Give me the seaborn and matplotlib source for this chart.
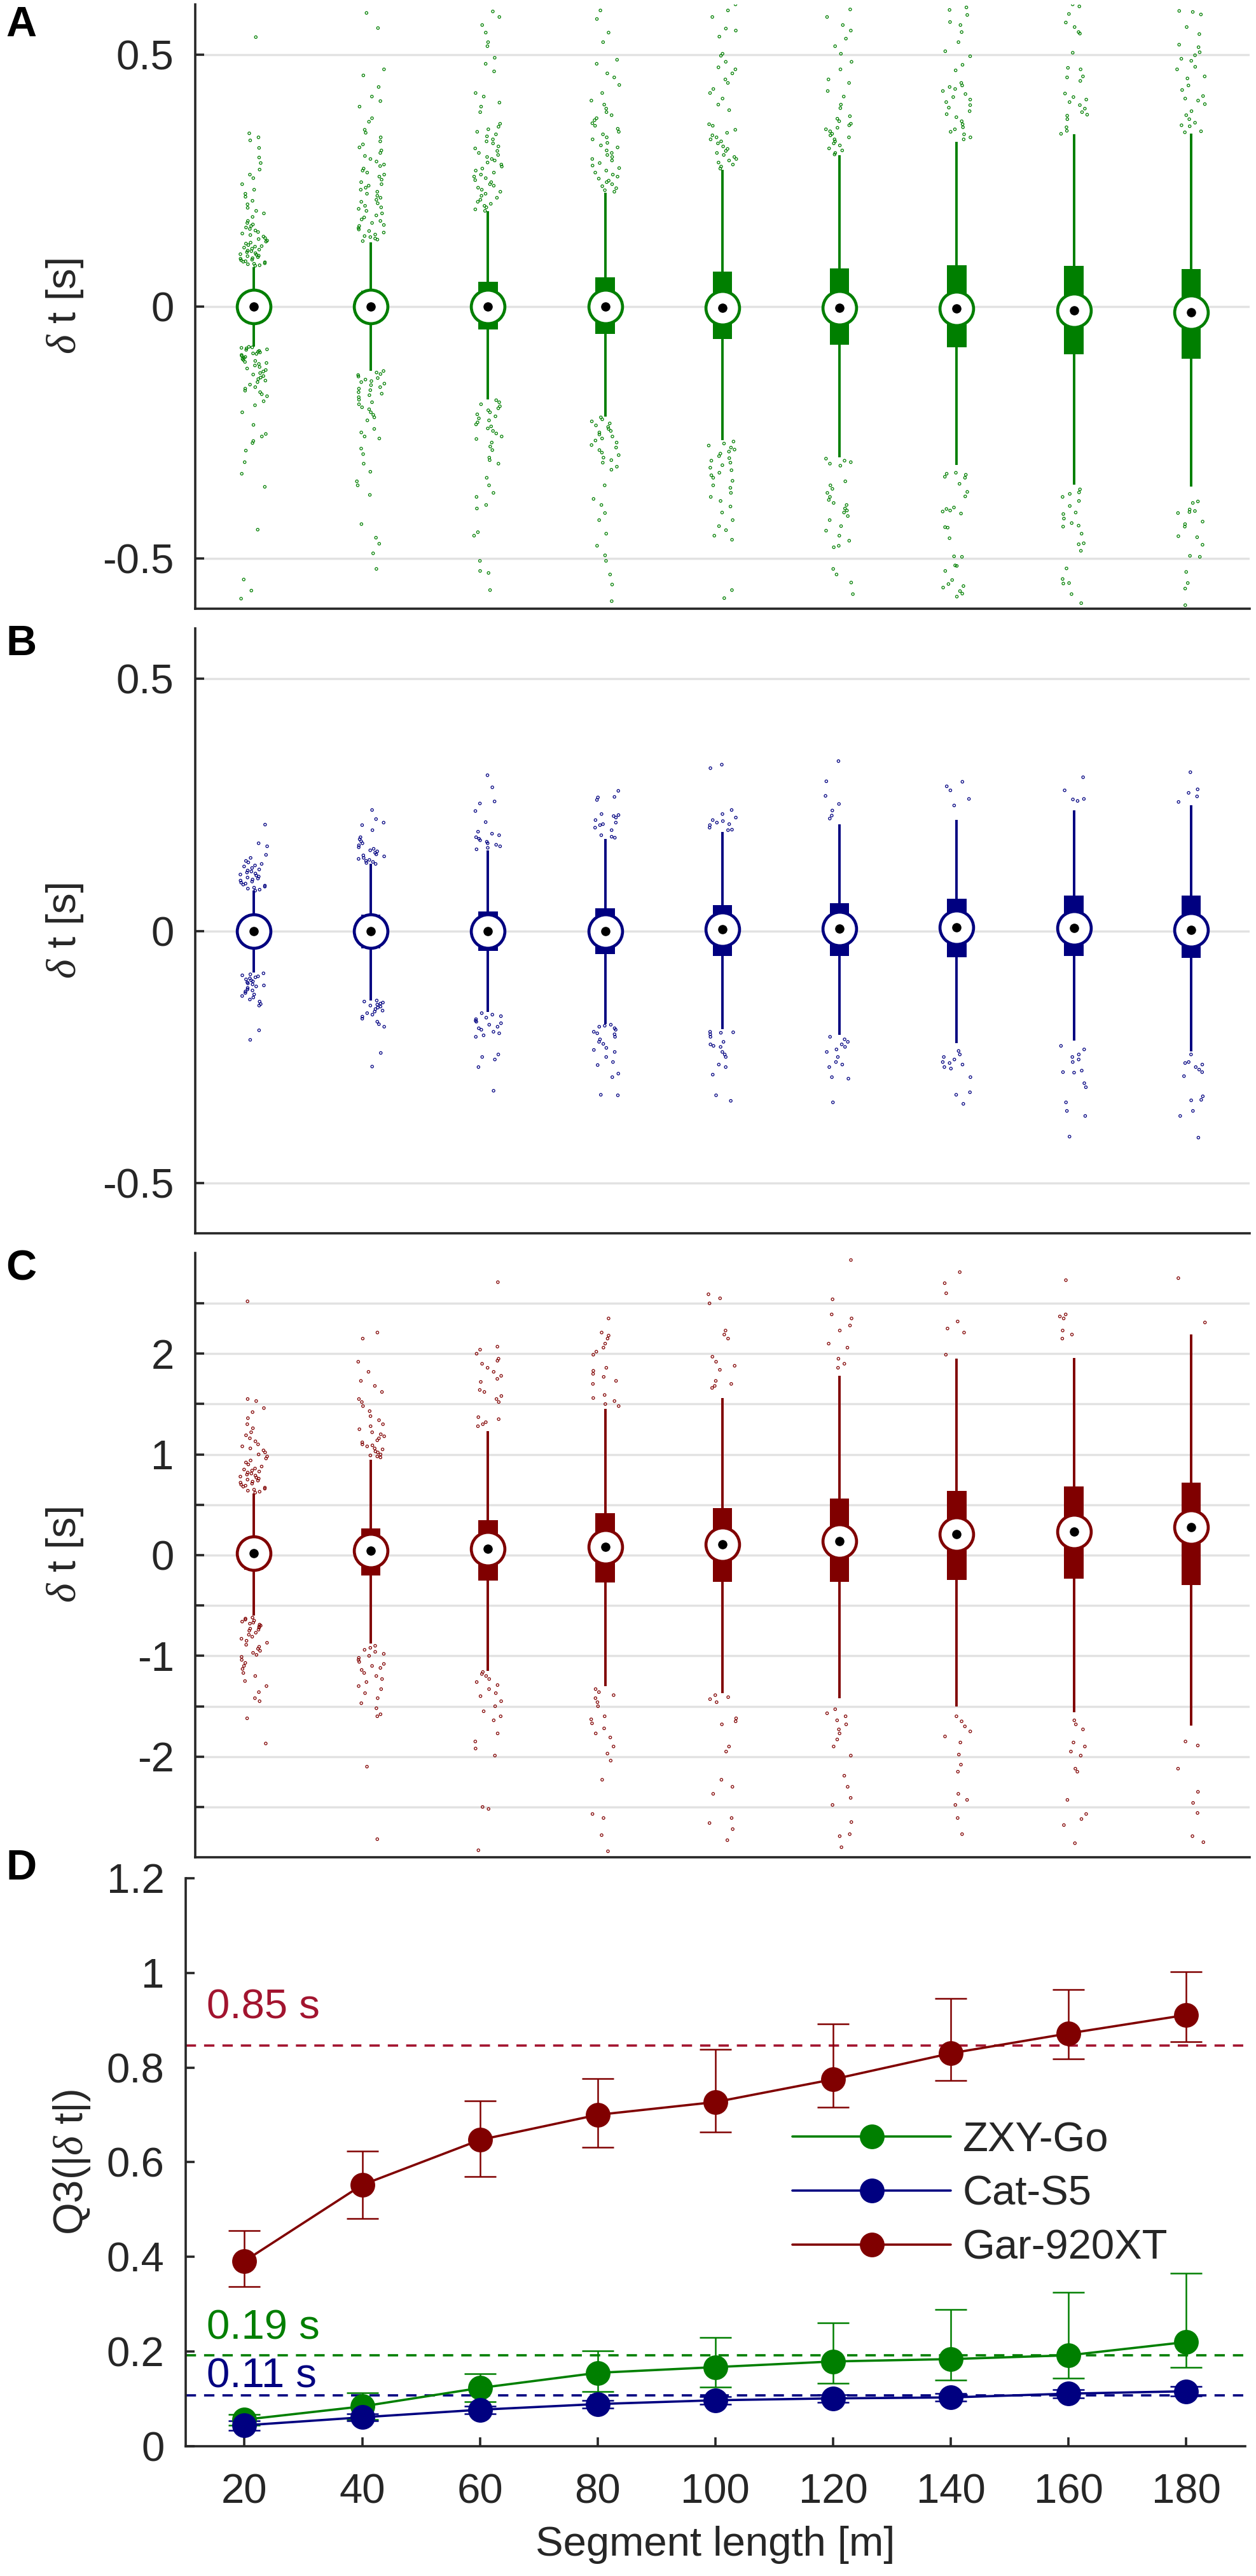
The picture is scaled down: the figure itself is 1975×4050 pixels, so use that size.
import numpy as np
import pandas as pd
import matplotlib
matplotlib.use("Agg")
import matplotlib.pyplot as plt
from matplotlib.lines import Line2D
import seaborn as sns

sns.set_style("ticks")
plt.rcParams["font.family"] = ["Liberation Sans", "DejaVu Sans"]
plt.rcParams["mathtext.fontset"] = "custom"
plt.rcParams["mathtext.it"] = "Liberation Serif:italic"
plt.rcParams["mathtext.rm"] = "Liberation Sans"
plt.rcParams["axes.unicode_minus"] = False

seg = [20, 40, 60, 80, 100, 120, 140, 160, 180]

# ---- panel A: ZXY-Go, delta t box stats [s]
a_med = [0.0, 0.0, 0.0, 0.0, -0.002, -0.002, -0.004, -0.008, -0.012]
a_q1 = [-0.02, -0.032, -0.045, -0.054, -0.064, -0.076, -0.081, -0.095, -0.103]
a_q3 = [0.02, 0.032, 0.049, 0.058, 0.069, 0.076, 0.082, 0.081, 0.075]
a_lo = [-0.08, -0.127, -0.185, -0.218, -0.265, -0.30, -0.315, -0.354, -0.357]
a_hi = [0.078, 0.127, 0.189, 0.226, 0.272, 0.30, 0.327, 0.342, 0.344]
a_out_hi = [
    [0.081, 0.082, 0.084, 0.085, 0.086, 0.088, 0.089, 0.09, 0.092, 0.093, 0.095, 0.096, 0.098, 0.1, 0.101,
     0.103, 0.104, 0.106, 0.108, 0.11, 0.111, 0.113, 0.115, 0.117, 0.119, 0.12, 0.122, 0.125, 0.127, 0.129,
     0.131, 0.134, 0.136, 0.139, 0.142, 0.145, 0.148, 0.151, 0.154, 0.157, 0.16, 0.163, 0.166, 0.17, 0.178,
     0.185, 0.19, 0.196, 0.203, 0.21, 0.218, 0.224, 0.232, 0.243, 0.255, 0.262, 0.272, 0.285, 0.296, 0.315,
     0.33, 0.336, 0.344, 0.535],
    [0.13, 0.133, 0.135, 0.138, 0.14, 0.143, 0.147, 0.15, 0.153, 0.156, 0.16, 0.162, 0.166, 0.17, 0.173,
     0.177, 0.181, 0.185, 0.19, 0.194, 0.197, 0.2, 0.205, 0.208, 0.212, 0.216, 0.22, 0.224, 0.228, 0.232,
     0.236, 0.24, 0.243, 0.247, 0.252, 0.258, 0.262, 0.266, 0.27, 0.274, 0.279, 0.282, 0.288, 0.293, 0.299,
     0.305, 0.31, 0.316, 0.322, 0.328, 0.336, 0.345, 0.351, 0.367, 0.374, 0.397, 0.408, 0.417, 0.436, 0.459,
     0.471, 0.553, 0.583],
    [0.19, 0.193, 0.197, 0.2, 0.204, 0.208, 0.212, 0.216, 0.22, 0.224, 0.228, 0.232, 0.236, 0.24, 0.243,
     0.247, 0.251, 0.255, 0.258, 0.262, 0.266, 0.27, 0.274, 0.278, 0.282, 0.286, 0.29, 0.293, 0.297, 0.301,
     0.305, 0.309, 0.314, 0.318, 0.324, 0.328, 0.332, 0.338, 0.342, 0.347, 0.352, 0.357, 0.363, 0.386, 0.397,
     0.405, 0.417, 0.424, 0.467, 0.482, 0.494, 0.517, 0.525, 0.544, 0.559, 0.575, 0.586],
    [0.228, 0.231, 0.235, 0.239, 0.243, 0.247, 0.25, 0.254, 0.258, 0.262, 0.266, 0.27, 0.275, 0.28, 0.285,
     0.29, 0.293, 0.297, 0.301, 0.305, 0.31, 0.316, 0.32, 0.325, 0.332, 0.336, 0.342, 0.347, 0.353, 0.359,
     0.364, 0.37, 0.374, 0.38, 0.386, 0.393, 0.401, 0.409, 0.424, 0.44, 0.455, 0.463, 0.482, 0.49, 0.525,
     0.544, 0.571, 0.588],
    [0.274, 0.278, 0.282, 0.286, 0.29, 0.293, 0.297, 0.301, 0.305, 0.309, 0.313, 0.318, 0.324, 0.328, 0.332,
     0.336, 0.34, 0.345, 0.351, 0.359, 0.362, 0.39, 0.401, 0.413, 0.424, 0.432, 0.444, 0.451, 0.463, 0.471,
     0.475, 0.486, 0.498, 0.502, 0.536, 0.548, 0.552, 0.575, 0.588, 0.6],
    [0.302, 0.305, 0.31, 0.314, 0.32, 0.324, 0.328, 0.332, 0.336, 0.34, 0.343, 0.348, 0.352, 0.355, 0.36,
     0.363, 0.368, 0.373, 0.378, 0.394, 0.401, 0.417, 0.428, 0.444, 0.451, 0.471, 0.486, 0.502, 0.517, 0.532,
     0.548, 0.559, 0.575, 0.59],
    [0.332, 0.336, 0.342, 0.347, 0.352, 0.356, 0.362, 0.368, 0.376, 0.382, 0.388, 0.395, 0.4, 0.406, 0.411,
     0.416, 0.422, 0.428, 0.432, 0.436, 0.439, 0.444, 0.469, 0.48, 0.497, 0.507, 0.525, 0.545, 0.559, 0.565,
     0.579, 0.589, 0.594],
    [0.343, 0.349, 0.356, 0.372, 0.379, 0.381, 0.386, 0.393, 0.4, 0.406, 0.411, 0.416, 0.423, 0.448, 0.455,
     0.457, 0.471, 0.474, 0.504, 0.542, 0.545, 0.555, 0.564, 0.581, 0.596, 0.6],
    [0.346, 0.348, 0.358, 0.36, 0.365, 0.372, 0.38, 0.388, 0.402, 0.409, 0.413, 0.418, 0.43, 0.439, 0.453,
     0.457, 0.471, 0.476, 0.488, 0.492, 0.499, 0.505, 0.515, 0.52, 0.541, 0.555, 0.58, 0.585, 0.587],
]
a_out_lo = [
    [-0.08, -0.081, -0.082, -0.083, -0.085, -0.086, -0.088, -0.09, -0.091, -0.093, -0.094, -0.096, -0.098,
     -0.1, -0.102, -0.104, -0.106, -0.108, -0.11, -0.112, -0.114, -0.117, -0.12, -0.123, -0.126, -0.129,
     -0.132, -0.135, -0.138, -0.141, -0.144, -0.147, -0.15, -0.155, -0.16, -0.163, -0.167, -0.17, -0.174,
     -0.178, -0.188, -0.196, -0.21, -0.235, -0.253, -0.258, -0.267, -0.271, -0.286, -0.309, -0.332, -0.358,
     -0.443, -0.542, -0.564, -0.58],
    [-0.128, -0.131, -0.134, -0.136, -0.139, -0.142, -0.145, -0.148, -0.15, -0.153, -0.156, -0.16, -0.163,
     -0.166, -0.17, -0.173, -0.176, -0.18, -0.185, -0.19, -0.194, -0.2, -0.204, -0.21, -0.215, -0.22, -0.226,
     -0.243, -0.25, -0.258, -0.262, -0.282, -0.293, -0.312, -0.328, -0.347, -0.355, -0.374, -0.432, -0.459,
     -0.471, -0.49, -0.521],
    [-0.186, -0.19, -0.194, -0.198, -0.202, -0.206, -0.21, -0.214, -0.218, -0.222, -0.226, -0.23, -0.234,
     -0.238, -0.242, -0.247, -0.252, -0.258, -0.263, -0.27, -0.278, -0.285, -0.3, -0.305, -0.312, -0.34,
     -0.355, -0.37, -0.378, -0.394, -0.401, -0.448, -0.455, -0.505, -0.525, -0.529, -0.563],
    [-0.22, -0.224, -0.228, -0.232, -0.236, -0.239, -0.243, -0.247, -0.25, -0.254, -0.258, -0.262, -0.266,
     -0.27, -0.275, -0.28, -0.285, -0.29, -0.295, -0.3, -0.305, -0.31, -0.318, -0.324, -0.355, -0.382,
     -0.394, -0.41, -0.424, -0.451, -0.475, -0.494, -0.505, -0.532, -0.552, -0.585],
    [-0.268, -0.272, -0.276, -0.28, -0.284, -0.288, -0.292, -0.297, -0.301, -0.306, -0.31, -0.315, -0.32,
     -0.325, -0.33, -0.335, -0.34, -0.346, -0.355, -0.36, -0.37, -0.378, -0.386, -0.397, -0.409, -0.424,
     -0.436, -0.444, -0.455, -0.463, -0.563, -0.579],
    [-0.302, -0.306, -0.309, -0.312, -0.316, -0.347, -0.355, -0.362, -0.37, -0.378, -0.384, -0.39, -0.394,
     -0.401, -0.405, -0.409, -0.416, -0.424, -0.436, -0.445, -0.455, -0.465, -0.475, -0.478, -0.521, -0.532,
     -0.548, -0.571],
    [-0.33, -0.332, -0.334, -0.338, -0.34, -0.352, -0.368, -0.377, -0.399, -0.402, -0.405, -0.407, -0.411,
     -0.438, -0.439, -0.46, -0.496, -0.497, -0.514, -0.515, -0.525, -0.543, -0.551, -0.555, -0.558, -0.565,
     -0.57, -0.576],
    [-0.363, -0.369, -0.372, -0.378, -0.386, -0.396, -0.409, -0.412, -0.421, -0.43, -0.435, -0.437, -0.451,
     -0.47, -0.472, -0.485, -0.52, -0.541, -0.549, -0.55, -0.571, -0.589],
    [-0.387, -0.39, -0.403, -0.406, -0.408, -0.41, -0.427, -0.432, -0.437, -0.456, -0.458, -0.473, -0.495,
     -0.497, -0.527, -0.549, -0.56, -0.593],
]

# ---- panel B: Cat-S5
b_med = [0.0, 0.0, 0.0, 0.0, 0.004, 0.005, 0.007, 0.006, 0.002]
b_q1 = [-0.02, -0.034, -0.04, -0.046, -0.05, -0.05, -0.052, -0.049, -0.054]
b_q3 = [0.02, 0.033, 0.039, 0.045, 0.051, 0.055, 0.064, 0.07, 0.07]
b_lo = [-0.083, -0.138, -0.161, -0.185, -0.195, -0.206, -0.222, -0.218, -0.239]
b_hi = [0.08, 0.133, 0.16, 0.182, 0.197, 0.212, 0.221, 0.239, 0.25]
b_out_hi = [
    [0.08, 0.082, 0.084, 0.086, 0.088, 0.09, 0.092, 0.094, 0.096, 0.098, 0.1, 0.102, 0.104, 0.106, 0.108,
     0.11, 0.112, 0.114, 0.116, 0.118, 0.12, 0.122, 0.125, 0.128, 0.13, 0.133, 0.136, 0.139, 0.145, 0.151,
     0.168, 0.174, 0.211],
    [0.133, 0.135, 0.137, 0.139, 0.141, 0.143, 0.145, 0.148, 0.15, 0.152, 0.155, 0.158, 0.16, 0.163, 0.166,
     0.17, 0.174, 0.178, 0.182, 0.186, 0.2, 0.21, 0.215, 0.222, 0.24],
    [0.162, 0.165, 0.168, 0.171, 0.174, 0.177, 0.18, 0.183, 0.186, 0.19, 0.193, 0.197, 0.216, 0.238, 0.253,
     0.257, 0.285, 0.309],
    [0.185, 0.187, 0.19, 0.2, 0.205, 0.21, 0.212, 0.215, 0.22, 0.225, 0.228, 0.23, 0.232, 0.26, 0.265,
     0.266, 0.278],
    [0.2, 0.201, 0.205, 0.21, 0.212, 0.215, 0.218, 0.22, 0.225, 0.232, 0.24, 0.323, 0.33],
    [0.223, 0.229, 0.239, 0.252, 0.268, 0.297, 0.337],
    [0.249, 0.262, 0.279, 0.287, 0.296],
    [0.258, 0.261, 0.262, 0.279, 0.305],
    [0.256, 0.267, 0.274, 0.281, 0.315],
]
b_out_lo = [
    [-0.084, -0.086, -0.088, -0.09, -0.092, -0.094, -0.096, -0.098, -0.1, -0.102, -0.104, -0.106, -0.108,
     -0.11, -0.113, -0.116, -0.118, -0.12, -0.123, -0.126, -0.129, -0.132, -0.136, -0.14, -0.145, -0.148,
     -0.197, -0.216],
    [-0.138, -0.14, -0.142, -0.144, -0.146, -0.148, -0.15, -0.152, -0.155, -0.158, -0.16, -0.163, -0.166,
     -0.17, -0.174, -0.18, -0.185, -0.19, -0.242, -0.269],
    [-0.163, -0.166, -0.169, -0.172, -0.175, -0.178, -0.18, -0.183, -0.186, -0.19, -0.193, -0.196, -0.2,
     -0.203, -0.207, -0.21, -0.245, -0.25, -0.255, -0.27, -0.317],
    [-0.186, -0.188, -0.19, -0.193, -0.196, -0.2, -0.203, -0.205, -0.21, -0.215, -0.22, -0.224, -0.232,
     -0.236, -0.24, -0.25, -0.26, -0.266, -0.283, -0.29, -0.325, -0.326],
    [-0.2, -0.201, -0.202, -0.205, -0.21, -0.22, -0.225, -0.228, -0.23, -0.24, -0.245, -0.25, -0.265, -0.27,
     -0.285, -0.326, -0.337],
    [-0.21, -0.215, -0.22, -0.225, -0.23, -0.235, -0.24, -0.25, -0.26, -0.265, -0.27, -0.29, -0.293, -0.34],
    [-0.238, -0.245, -0.25, -0.255, -0.26, -0.262, -0.265, -0.27, -0.273, -0.29, -0.32, -0.325, -0.343],
    [-0.228, -0.235, -0.245, -0.25, -0.255, -0.26, -0.277, -0.28, -0.281, -0.302, -0.31, -0.34, -0.357,
     -0.367, -0.408],
    [-0.245, -0.26, -0.262, -0.265, -0.27, -0.275, -0.28, -0.288, -0.328, -0.335, -0.336, -0.357, -0.367,
     -0.41],
]

# ---- panel C: Gar-920XT
c_med = [0.022, 0.044, 0.066, 0.084, 0.11, 0.14, 0.21, 0.235, 0.28]
c_q1 = [-0.146, -0.2, -0.25, -0.27, -0.265, -0.265, -0.245, -0.235, -0.3]
c_q3 = [0.16, 0.265, 0.35, 0.416, 0.47, 0.56, 0.64, 0.68, 0.72]
c_lo = [-0.6, -0.88, -1.15, -1.3, -1.37, -1.42, -1.5, -1.56, -1.69]
c_hi = [0.61, 0.95, 1.23, 1.45, 1.56, 1.78, 1.95, 1.96, 2.19]
c_out_hi = [
    [0.62, 0.63, 0.64, 0.65, 0.66, 0.67, 0.68, 0.69, 0.7, 0.71, 0.72, 0.73, 0.74, 0.75, 0.76, 0.77, 0.78,
     0.79, 0.8, 0.81, 0.82, 0.83, 0.84, 0.85, 0.86, 0.88, 0.9, 0.92, 0.94, 0.96, 0.98, 1.0, 1.02, 1.04, 1.06,
     1.08, 1.1, 1.13, 1.16, 1.19, 1.22, 1.26, 1.3, 1.36, 1.42, 1.46, 1.53, 1.55, 2.52],
    [0.97, 0.98, 0.99, 1.0, 1.02, 1.03, 1.05, 1.06, 1.08, 1.09, 1.1, 1.12, 1.14, 1.16, 1.18, 1.2, 1.22,
     1.25, 1.28, 1.3, 1.34, 1.38, 1.43, 1.48, 1.52, 1.55, 1.62, 1.68, 1.73, 1.82, 1.92, 2.15, 2.21],
    [1.28, 1.3, 1.32, 1.35, 1.37, 1.52, 1.55, 1.58, 1.62, 1.64, 1.72, 1.75, 1.78, 1.82, 1.86, 1.9, 1.93,
     1.95, 2.0, 2.04, 2.07, 2.71],
    [1.48, 1.5, 1.53, 1.56, 1.59, 1.7, 1.73, 1.77, 1.8, 1.83, 1.86, 1.99, 2.02, 2.06, 2.1, 2.15, 2.18,
     2.21, 2.35],
    [1.66, 1.68, 1.7, 1.73, 1.84, 1.88, 1.92, 1.97, 2.15, 2.19, 2.23, 2.5, 2.55, 2.59],
    [1.86, 1.9, 1.95, 2.06, 2.1, 2.23, 2.28, 2.35, 2.39, 2.54, 2.93],
    [1.99, 2.21, 2.25, 2.32, 2.6, 2.7, 2.81],
    [2.15, 2.19, 2.23, 2.35, 2.37, 2.39, 2.73],
    [2.31, 2.75],
]
c_out_lo = [
    [-0.62, -0.63, -0.64, -0.65, -0.66, -0.67, -0.68, -0.69, -0.7, -0.71, -0.72, -0.73, -0.74, -0.75,
     -0.77, -0.79, -0.81, -0.83, -0.85, -0.87, -0.89, -0.91, -0.93, -0.95, -0.97, -0.99, -1.01, -1.04,
     -1.07, -1.1, -1.13, -1.17, -1.2, -1.25, -1.3, -1.36, -1.42, -1.45, -1.62, -1.87],
    [-0.9, -0.92, -0.94, -0.96, -0.98, -1.0, -1.02, -1.04, -1.06, -1.08, -1.1, -1.12, -1.14, -1.17, -1.2,
     -1.23, -1.26, -1.3, -1.33, -1.37, -1.42, -1.47, -1.52, -1.58, -1.6, -2.1, -2.82],
    [-1.16, -1.18, -1.2, -1.23, -1.26, -1.29, -1.33, -1.37, -1.4, -1.45, -1.5, -1.55, -1.6, -1.64, -1.77,
     -1.85, -1.92, -1.99, -2.5, -2.52, -2.93],
    [-1.33, -1.36, -1.39, -1.42, -1.46, -1.5, -1.6, -1.63, -1.67, -1.72, -1.77, -1.81, -1.9, -1.97, -2.04,
     -2.23, -2.57, -2.61, -2.78, -2.94],
    [-1.39, -1.41, -1.43, -1.46, -1.62, -1.65, -1.68, -1.9, -1.95, -2.23, -2.3, -2.37, -2.61, -2.66, -2.72,
     -2.83],
    [-1.53, -1.57, -1.6, -1.64, -1.68, -1.73, -1.77, -1.83, -1.9, -1.99, -2.19, -2.3, -2.41, -2.48, -2.65,
     -2.77, -2.79, -2.9],
    [-1.6, -1.65, -1.7, -1.75, -1.8, -1.86, -1.98, -2.08, -2.15, -2.37, -2.43, -2.48, -2.61, -2.77],
    [-1.64, -1.68, -1.73, -1.86, -1.9, -1.95, -1.99, -2.12, -2.15, -2.43, -2.57, -2.62, -2.68, -2.86],
    [-1.85, -1.89, -2.12, -2.35, -2.46, -2.56, -2.79, -2.85],
]

# ---- panel D: Q3(|dt|) with error bars
devices = ["ZXY-Go", "Cat-S5", "Gar-920XT"]
zxy_q3 = [0.056, 0.084, 0.123, 0.155, 0.167, 0.179, 0.184, 0.192, 0.22]
zxy_lo = [0.044, 0.056, 0.094, 0.116, 0.125, 0.133, 0.14, 0.143, 0.166]
zxy_hi = [0.067, 0.113, 0.153, 0.202, 0.229, 0.26, 0.289, 0.325, 0.366]
cat_q3 = [0.044, 0.061, 0.077, 0.089, 0.097, 0.101, 0.103, 0.111, 0.116]
cat_lo = [0.034, 0.053, 0.069, 0.081, 0.089, 0.093, 0.095, 0.102, 0.106]
cat_hi = [0.054, 0.069, 0.085, 0.097, 0.105, 0.109, 0.111, 0.12, 0.126]
gar_q3 = [0.391, 0.552, 0.647, 0.70, 0.727, 0.775, 0.83, 0.872, 0.911]
gar_lo = [0.337, 0.481, 0.57, 0.632, 0.663, 0.716, 0.773, 0.818, 0.854]
gar_hi = [0.455, 0.624, 0.73, 0.777, 0.839, 0.892, 0.946, 0.965, 1.002]
thresholds = [0.192, 0.108, 0.847]
thr_label_y = [0.226, 0.124, 0.904]

GREEN, NAVY, DRED = "#007f00", "#000080", "#800000"
CRIMSON = "#a2142f"
INK = "#262626"
FS = 47

fig = plt.figure(figsize=(19.75, 40.5), dpi=100)
axA = fig.add_axes([0.1554, 0.7637, 0.8395, 0.2346])
axB = fig.add_axes([0.1554, 0.5212, 0.8395, 0.2348])
axC = fig.add_axes([0.1554, 0.2790, 0.8395, 0.2346])
axD = fig.add_axes([0.1478, 0.0504, 0.8435, 0.2205])


def style_axes(ax):
    for s in ["top", "right"]:
        ax.spines[s].set_visible(False)
    for s in ["left", "bottom"]:
        ax.spines[s].set_linewidth(2.6)
        ax.spines[s].set_color(INK)
    ax.tick_params(direction="in", length=10, width=2.6, color=INK,
                   labelsize=FS, labelcolor=INK, pad=24)


def box_panel(ax, med, q1, q3, lo, hi, out_hi, out_lo, color, ylim, ticks, labels):
    stats = [dict(med=m, q1=a, q3=b, whislo=l, whishi=h, fliers=[])
             for m, a, b, l, h in zip(med, q1, q3, lo, hi)]
    ax.bxp(stats, positions=seg, widths=3.3, patch_artist=True, showcaps=False,
           showfliers=False, manage_ticks=False,
           boxprops=dict(facecolor=color, edgecolor=color, linewidth=0),
           whiskerprops=dict(color=color, linewidth=2.8, solid_capstyle="butt"),
           medianprops=dict(linewidth=0))
    rows = [(s, v) for s, up, dn in zip(seg, out_hi, out_lo) for v in up + dn]
    df = pd.DataFrame(rows, columns=["seg", "dt"])
    np.random.seed(3)
    sns.stripplot(data=df, x="seg", y="dt", native_scale=True, orient="x",
                  jitter=0.12, size=3.0, color=color, facecolor="none",
                  edgecolor=color, linewidth=0.9, ax=ax, zorder=3)
    sns.scatterplot(x=seg, y=med, s=38 ** 2, color="white", edgecolor=color,
                    linewidth=3.4, zorder=5, legend=False, ax=ax)
    sns.scatterplot(x=seg, y=med, s=10.5 ** 2, color="black", linewidth=0,
                    zorder=6, legend=False, ax=ax)
    style_axes(ax)
    ax.set_xlim(10, 190)
    ax.set_ylim(*ylim)
    ax.set_xticks([])
    ax.set_yticks(ticks)
    ax.set_yticklabels(labels)
    ax.yaxis.grid(True, color="#e2e2e2", linewidth=2.5)
    ax.set_axisbelow(True)
    ax.set_xlabel("")
    ax.set_ylabel(r"$\delta$ t [s]", fontsize=FS, color=INK)
    ax.yaxis.set_label_coords(-0.104, 0.5)


box_panel(axA, a_med, a_q1, a_q3, a_lo, a_hi, a_out_hi, a_out_lo, GREEN,
          (-0.6, 0.6), [-0.5, 0, 0.5], ["-0.5", "0", "0.5"])
box_panel(axB, b_med, b_q1, b_q3, b_lo, b_hi, b_out_hi, b_out_lo, NAVY,
          (-0.6, 0.6), [-0.5, 0, 0.5], ["-0.5", "0", "0.5"])
c_ticks = [-2.5, -2, -1.5, -1, -0.5, 0, 0.5, 1, 1.5, 2, 2.5]
c_labels = ["", "-2", "", "-1", "", "0", "", "1", "", "2", ""]
box_panel(axC, c_med, c_q1, c_q3, c_lo, c_hi, c_out_hi, c_out_lo, DRED,
          (-3, 3), c_ticks, c_labels)

# ---- panel D
colors = [GREEN, NAVY, DRED]
df_d = pd.DataFrame({
    "seg": seg * 3,
    "q3": zxy_q3 + cat_q3 + gar_q3,
    "device": [d for d in devices for _ in seg],
})
for thr, ty, c in zip(thresholds, thr_label_y, [GREEN, NAVY, CRIMSON]):
    axD.axhline(thr, color=c, linewidth=2.6, linestyle=(0, (4.5, 3.5)), zorder=1)
    axD.text(13.6, ty, f"{thr:.2f} s", color=c, fontsize=FS, ha="left", va="baseline")
for vals, lo, hi, c in zip([zxy_q3, cat_q3, gar_q3], [zxy_lo, cat_lo, gar_lo],
                           [zxy_hi, cat_hi, gar_hi], colors):
    v = np.array(vals)
    axD.errorbar(seg, v, yerr=[v - np.array(lo), np.array(hi) - v], fmt="none",
                 ecolor=c, elinewidth=1.8, capsize=18, capthick=1.8, zorder=2)
sns.lineplot(data=df_d, x="seg", y="q3", hue="device", hue_order=devices,
             palette=colors, marker="o", markersize=28, markeredgewidth=0,
             linewidth=2.6, legend=False, ax=axD, zorder=3)
style_axes(axD)
axD.tick_params(axis="x", pad=31)
axD.set_xlim(10, 190)
axD.set_ylim(0, 1.2)
axD.set_xticks(seg)
axD.set_xticklabels([str(s) for s in seg])
axD.set_yticks([0, 0.2, 0.4, 0.6, 0.8, 1.0, 1.2])
axD.set_yticklabels(["0", "0.2", "0.4", "0.6", "0.8", "1", "1.2"])
axD.set_xlabel("Segment length [m]", fontsize=FS, color=INK, labelpad=16)
axD.set_ylabel(r"Q3(|$\delta$ t|)", fontsize=FS, color=INK)
axD.yaxis.set_label_coords(-0.088, 0.5)
handles = [Line2D([0], [0], color=c, linewidth=2.6, marker="o", markersize=28,
                  markeredgewidth=0) for c in colors]
axD.legend(handles, devices, loc="upper left", bbox_to_anchor=(0.573, 0.572),
           frameon=False, fontsize=FS, handlelength=3.8, handletextpad=0.3,
           labelspacing=0.38, borderpad=0, borderaxespad=0)

for letter, yb in zip("ABCD", [57, 1030, 2012, 2955]):
    fig.text(9 / 1975, 1 - yb / 4050, letter, fontsize=48, fontweight="bold",
             ha="left", va="baseline", color="black")

fig.savefig("out.png", dpi=100)
